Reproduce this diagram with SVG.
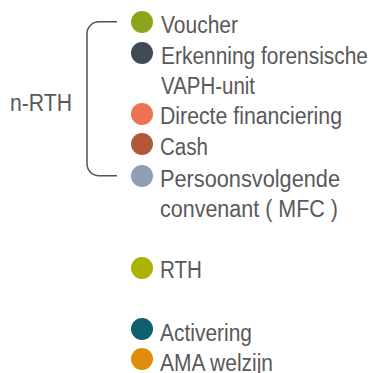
<svg xmlns="http://www.w3.org/2000/svg" width="377" height="373" viewBox="0 0 377 373">
<style>
text{font-family:"Liberation Sans",Arial,sans-serif;font-size:23px;fill:#595959}
.br{fill:none;stroke:#4a5561;stroke-width:1.5}
</style>
<rect width="377" height="373" fill="#fff"/>
<g id="connectors">
<path class="br" d="M117 21.7 H99 A12 12 0 0 0 87 33.7 V163.7 A12 12 0 0 0 99 175.7 H117"/>
</g>
<g id="n-rth"><text x="10" y="111" textLength="62" lengthAdjust="spacingAndGlyphs">n-RTH</text></g>
<g id="voucher"><circle cx="142" cy="22" r="11" fill="#8aa51b"/><text x="161" y="33" textLength="77" lengthAdjust="spacingAndGlyphs">Voucher</text></g>
<g id="erkenning"><circle cx="142" cy="53" r="11" fill="#3e4a55"/><text x="161" y="64" textLength="207" lengthAdjust="spacingAndGlyphs">Erkenning forensische</text><text x="161" y="94" textLength="94" lengthAdjust="spacingAndGlyphs">VAPH-unit</text></g>
<g id="directe"><circle cx="142" cy="114" r="11" fill="#ee7352"/><text x="160" y="124" textLength="182" lengthAdjust="spacingAndGlyphs">Directe financiering</text></g>
<g id="cash"><circle cx="142" cy="144" r="11" fill="#b0573d"/><text x="160" y="155" textLength="48" lengthAdjust="spacingAndGlyphs">Cash</text></g>
<g id="persoons"><circle cx="142" cy="176" r="11" fill="#8c9fb3"/><text x="160" y="187" textLength="180" lengthAdjust="spacingAndGlyphs">Persoonsvolgende</text><text x="160" y="217" textLength="178" lengthAdjust="spacingAndGlyphs">convenant ( MFC )</text></g>
<g id="rth"><circle cx="142" cy="268" r="11" fill="#a9b300"/><text x="160" y="278" textLength="42" lengthAdjust="spacingAndGlyphs">RTH</text></g>
<g id="activering"><circle cx="142" cy="329" r="11" fill="#0f5f6e"/><text x="160" y="341" textLength="92" lengthAdjust="spacingAndGlyphs">Activering</text></g>
<g id="ama"><circle cx="142" cy="359" r="11" fill="#e08c0c"/><text x="160" y="370.5" textLength="113" lengthAdjust="spacingAndGlyphs">AMA welzijn</text></g>
</svg>
